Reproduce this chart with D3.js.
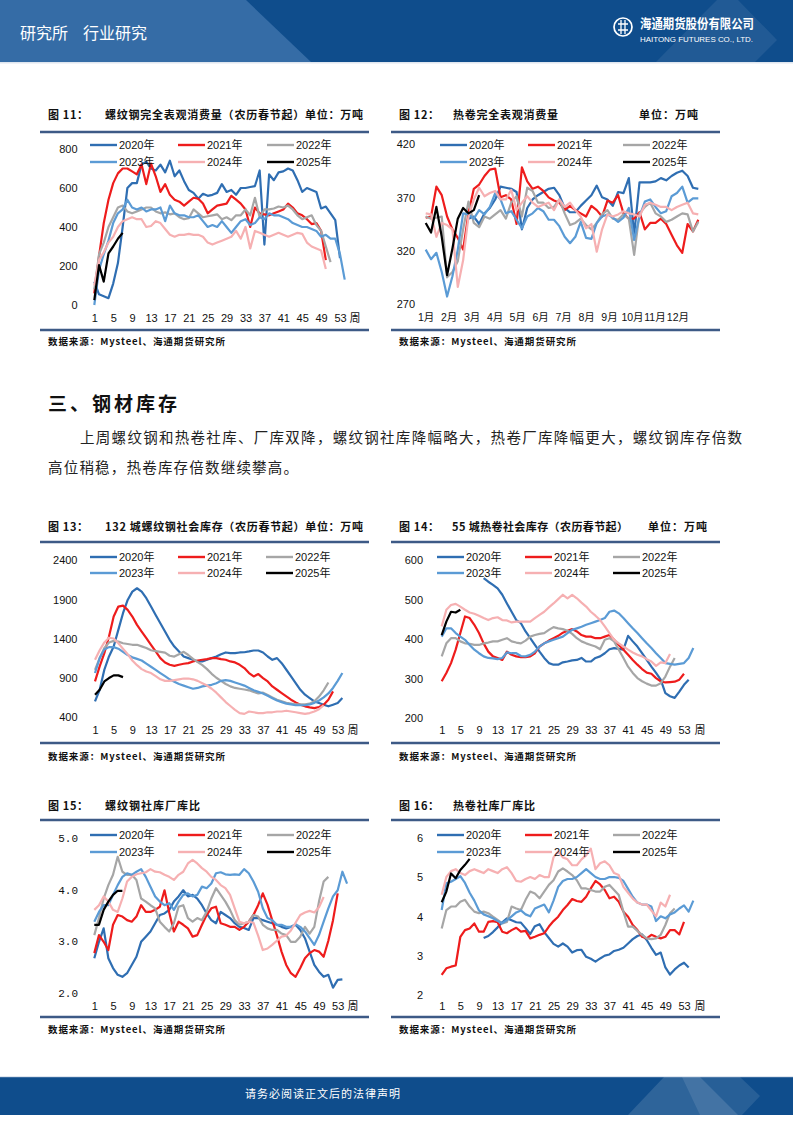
<!DOCTYPE html>
<html><head><meta charset="utf-8">
<script src="https://cdn.jsdelivr.net/npm/d3@7"></script>
<style>body{margin:0;background:#fff}svg{display:block}</style>
</head><body>
<svg id="page" width="793" height="1122"></svg>
<script>
// ---------- shared categories ----------
const yearNames = ["2020年","2021年","2022年","2023年","2024年","2025年"];
const yearColors = ["#2f6eb2","#ee1c1c","#a6a6a6","#5b9bd5","#f6b0b2","#000000"];
const weekTicks = [1,5,9,13,17,21,25,29,33,37,41,45,49,53];
const monthLabels = ["1月","2月","3月","4月","5月","6月","7月","8月","9月","10月","11月","12月"];
const monthTickIdx = [0,4.3,8.6,12.9,17.1,21.4,25.7,30,34.3,38.6,42.8,47.1];

// ---------- 图11 螺纹钢表观消费 (week 1..) ----------
const rbCons2020 = [120,55,45,35,110,215,400,600,625,625,720,735,700,690,720,680,740,660,690,635,590,575,545,570,560,565,575,620,580,590,565,600,600,605,610,690,310,670,640,680,685,700,690,640,580,600,590,580,495,505,470,435,240];
const rbCons2021 = [60,250,420,540,625,675,700,700,685,670,720,620,725,660,580,620,565,540,530,510,530,550,545,520,470,490,510,515,520,560,540,520,490,400,500,470,465,460,470,480,490,520,500,470,460,440,415,420,380,230];
const rbCons2022 = [80,260,320,400,450,500,510,480,470,480,490,500,500,480,470,475,465,470,450,440,445,490,470,450,455,460,465,440,450,435,460,460,490,460,550,450,490,490,495,505,500,510,490,460,440,450,460,410,380,300,220];
const rbCons2023 = [0,180,260,330,420,470,490,540,500,490,500,480,490,490,500,430,510,470,460,460,450,450,460,430,400,410,400,430,400,370,400,430,440,410,420,450,440,470,460,460,450,440,420,410,400,400,390,380,350,360,340,340,260,130];
const rbCons2024 = [100,230,270,320,350,400,430,440,450,440,440,400,405,430,420,390,360,350,360,360,365,360,360,350,320,310,320,330,340,350,380,340,400,290,380,370,360,350,360,370,360,350,360,370,365,320,300,290,280,185];
const rbCons2025 = [25,205,120,265,300,340,370];

// ---------- 图12 热卷表观消费 (week index 0..51) ----------
const hcCons2020 = [null,null,null,null,null,null,null,null,350,352,345,355,360,368,380,379,378,375,340,360,368,372,375,378,379,372,360,356,356,362,367,372,381,370,368,362,375,374,388,335,384,384,384,385,388,386,390,393,395,390,379,378];
const hcCons2021 = [351,352,380,372,352,340,332,321,355,378,382,390,396,397,370,372,368,345,398,385,378,380,376,370,367,365,358,362,358,355,352,362,358,352,367,365,372,355,350,350,356,340,346,346,350,345,335,325,318,345,338,349];
const hcCons2022 = [352,350,351,352,295,300,310,340,366,346,342,352,350,354,358,350,365,371,352,379,376,365,365,360,361,368,355,344,346,350,344,340,346,354,358,350,349,354,350,316,355,361,365,355,352,347,349,352,355,354,338,347];
const hcCons2023 = [321,312,318,300,277,296,321,355,354,350,358,354,361,374,368,355,357,349,341,352,355,360,357,349,349,343,333,327,333,347,332,331,346,352,354,351,347,351,360,330,352,366,368,361,355,357,371,374,380,365,369,369];
const hcCons2024 = [355,354,333,346,344,340,286,311,352,368,379,371,374,376,368,368,377,358,365,371,365,361,363,365,358,368,361,365,358,352,341,345,319,340,354,352,354,357,355,354,352,363,365,363,361,361,358,361,363,365,355,354];
const hcCons2025 = [346,337,361,333,297,322,350,360,355,358,372];

// ---------- 图13 螺纹钢社会库存 ----------
const rbInv2020 = [599,747,1002,1171,1298,1510,1722,1891,1997,2040,1997,1913,1807,1700,1595,1489,1383,1298,1235,1171,1150,1129,1108,1108,1129,1150,1171,1200,1222,1213,1213,1222,1225,1235,1247,1247,1222,1171,1129,1150,1086,1002,917,832,747,684,641,599,578,557,536,557,578,641];
const rbInv2021 = [853,1044,1213,1425,1680,1807,1819,1764,1680,1574,1489,1404,1319,1235,1150,1095,1065,1052,1065,1078,1086,1108,1120,1129,1137,1150,1150,1137,1129,1108,1095,1065,1023,959,917,947,896,853,790,747,705,663,620,586,557,536,523,514,527,557,620,726];
const rbInv2022 = [1000,1150,1280,1350,1370,1360,1340,1330,1320,1320,1300,1280,1250,1240,1230,1220,1180,1170,1200,1230,1190,1140,1100,1060,1010,950,900,860,820,790,770,760,750,740,720,700,710,680,650,620,600,580,570,560,560,560,570,600,660,740,840];
const rbInv2023 = [960,1150,1260,1290,1290,1270,1230,1190,1160,1140,1120,1080,1040,1000,960,920,880,850,820,800,780,760,770,790,800,810,830,860,870,860,840,820,800,770,740,720,700,670,640,610,590,570,560,550,550,550,560,580,610,650,700,770,860,960];
const rbInv2024 = [1129,1250,1350,1410,1400,1340,1270,1200,1120,1060,1010,980,960,920,880,860,860,870,880,890,890,880,860,830,800,760,710,650,590,540,490,450,440,470,460,450,450,460,460,470,470,480,470,460,450,440,450,470,500,550];
const rbInv2025 = [684,747,853,896,930,930,908];

// ---------- 图14 热卷社会库存 ----------
const hcInv2020 = [null,null,null,null,null,null,null,null,null,554,545,537,528,512,490,469,448,440,419,402,385,368,352,339,335,335,341,343,346,347,352,343,343,352,356,364,374,377,375,373,408,394,381,364,347,330,314,297,263,255,251,267,284,297];
const hcInv2021 = [293,314,339,373,415,457,453,436,415,389,368,356,352,347,368,360,356,354,354,356,364,381,389,396,402,408,416,421,425,419,410,406,406,402,402,406,410,398,385,373,360,347,335,324,315,312,301,293,290,291,292,297,312];
const hcInv2022 = [356,389,402,402,394,389,388,385,385,389,391,394,394,398,402,394,391,389,396,406,410,413,415,423,430,427,425,421,413,402,394,389,385,381,374,398,402,394,373,352,330,314,301,293,287,282,282,288,305,330,352];
const hcInv2023 = [406,427,427,415,406,398,385,373,364,356,352,351,349,352,366,364,364,357,356,360,368,381,389,394,398,402,406,415,423,427,431,436,440,444,448,453,469,472,465,453,440,427,415,402,389,377,364,352,339,337,335,337,339,352,377];
const hcInv2024 = [432,474,486,489,482,474,467,464,459,453,448,453,455,448,447,442,444,444,444,444,453,461,469,480,490,501,512,503,512,503,492,482,469,459,448,432,415,398,389,381,373,366,360,356,349,343,332,341,339,362];
const hcInv2025 = [410,444,469,467,474];

// ---------- 图15 螺纹钢社库厂库比 ----------
const rbRatio2020 = [2.66,2.98,3.24,2.66,2.47,2.34,2.30,2.37,2.53,2.69,2.98,3.08,3.18,3.34,3.50,3.53,3.60,3.76,3.86,3.98,3.86,3.89,3.82,3.69,3.53,3.40,3.34,3.56,3.50,3.44,3.34,3.27,3.25,3.21,3.44,3.44,3.40,3.37,3.34,3.31,3.27,3.24,3.27,3.31,3.21,3.05,2.79,2.53,2.40,2.30,2.34,2.09,2.24,2.25];
const rbRatio2021 = [2.76,3.11,2.98,2.82,3.31,3.50,3.47,3.40,3.37,3.47,3.69,3.56,3.56,3.60,3.66,3.98,3.55,3.18,3.37,3.31,3.24,3.08,3.11,3.31,3.50,3.63,3.66,3.34,3.31,3.27,3.27,3.21,3.27,3.37,3.50,3.69,3.92,3.70,3.40,3.11,2.79,2.53,2.37,2.30,2.47,2.66,2.76,2.82,2.79,2.69,3.00,3.40,3.92];
const rbRatio2022 = [3.11,3.44,3.82,4.08,4.28,4.63,4.34,4.28,4.28,4.18,3.82,3.76,3.69,3.63,3.37,3.27,3.18,3.34,3.66,3.69,3.44,3.37,3.44,3.40,3.56,3.82,4.02,3.89,3.76,3.60,3.40,3.31,3.34,3.37,3.50,3.47,3.31,3.24,3.21,3.21,3.14,3.11,2.98,2.98,3.08,3.27,3.14,3.27,3.76,4.15,4.24];
const rbRatio2023 = [3.37,3.56,3.69,3.69,3.89,4.08,4.24,4.31,4.28,4.34,4.39,4.24,4.05,3.86,3.76,3.69,3.73,3.60,3.76,3.89,3.92,3.86,3.89,4.05,4.02,4.11,4.31,4.33,4.29,4.28,4.29,4.28,4.39,4.31,4.15,3.95,3.63,3.44,3.40,3.31,3.31,3.27,3.27,3.32,3.27,3.18,3.05,2.92,3.11,3.37,3.63,3.86,3.98,4.34,4.11];
const rbRatio2024 = [3.60,3.69,3.86,3.76,3.60,3.56,3.82,4.15,4.24,4.29,4.31,4.33,4.39,4.34,4.33,4.28,4.24,4.18,4.28,4.34,4.50,4.57,4.50,4.41,4.34,4.24,4.18,4.08,4.02,3.89,3.63,3.37,3.34,3.37,3.35,3.10,2.82,2.85,2.92,3.00,3.08,3.10,3.20,3.35,3.50,3.55,3.58,3.55,3.65,3.85];
const rbRatio2025 = [3.31,3.31,3.60,3.76,3.89,3.97,3.97];

// ---------- 图16 热卷社库厂库比 ----------
const hcRatio2020 = [null,null,null,null,null,null,null,null,null,3.45,3.50,3.60,3.72,3.85,3.95,3.90,3.85,3.84,3.70,3.55,3.75,3.80,3.60,3.45,3.30,3.23,3.31,3.23,3.08,3.14,3.15,2.97,2.92,2.85,2.93,3.00,3.03,3.12,3.15,3.20,3.31,3.42,3.50,3.54,3.40,3.20,3.02,3.08,2.70,2.52,2.65,2.75,2.82,2.70];
const hcRatio2021 = [2.51,2.68,2.72,2.75,3.48,3.65,3.69,3.82,3.61,3.61,3.86,3.88,3.85,3.61,3.57,3.65,3.71,3.61,3.63,3.44,3.48,3.53,3.57,3.74,3.88,3.99,4.16,4.29,4.44,4.39,4.37,4.50,4.71,4.90,4.81,4.67,4.46,4.50,4.37,4.12,3.99,3.78,3.65,3.48,3.44,3.53,3.48,3.44,3.48,3.65,3.65,3.54,3.86];
const hcRatio2022 = [3.69,4.16,4.25,4.25,4.37,4.42,4.25,4.12,4.08,4.12,4.08,3.99,3.91,3.82,3.86,4.25,4.20,4.16,4.42,4.63,4.58,4.46,4.63,4.80,4.92,5.14,5.22,5.14,5.05,4.92,4.71,4.71,4.67,4.63,4.63,4.75,4.80,4.67,4.54,4.12,3.74,3.74,3.63,3.53,3.44,3.42,3.44,3.53,3.78,4.08,4.20];
const hcRatio2023 = [4.16,4.84,4.88,4.95,5.02,4.85,4.60,4.40,4.15,4.05,4.00,3.95,3.88,3.83,3.90,4.00,4.10,4.15,4.05,4.00,4.20,4.25,4.30,4.10,4.40,4.75,4.90,4.95,4.95,5.00,5.10,5.20,5.10,5.00,4.95,4.95,5.00,5.00,4.98,4.90,4.70,4.50,4.35,4.30,4.30,4.25,3.88,4.00,3.95,4.05,4.10,4.20,4.28,4.12,4.40];
const hcRatio2024 = [4.55,5.00,5.15,5.20,5.10,5.05,5.15,5.20,5.15,5.10,5.20,5.15,5.10,5.20,5.25,5.10,4.90,4.88,4.95,5.00,4.95,5.05,5.00,5.00,5.50,5.65,5.50,5.45,5.30,5.30,5.45,5.55,5.72,5.20,5.35,5.40,5.30,5.10,5.05,4.75,4.60,4.45,4.35,4.30,4.30,4.15,4.00,4.35,4.25,4.55];
const hcRatio2025 = [4.36,4.63,5.09,4.97,5.18,5.31,5.46];

// ---------- axis tick values ----------
const yTicks11 = [0,200,400,600,800];
const yTicks12 = [270,320,370,420];
const yTicks13 = [400,900,1400,1900,2400];
const yTicks14 = [200,300,400,500,600];
const yTicks15 = [2,3,4,5];
const yTicks16 = [2,3,4,5,6];

const svg = d3.select("#page");
const CJK = "'Noto Sans CJK SC','Noto Sans',sans-serif";
const NUM = "'Liberation Sans',Arial,'Noto Sans CJK SC',sans-serif";
const ruleColor = "#3d5a86";

// ---------- header ----------
svg.append("rect").attr("x",0).attr("y",0).attr("width",793).attr("height",62).attr("fill","#0f4d8c");
svg.append("polygon").attr("points","0,0 246,0 311,62 0,62").attr("fill","#356ca6");
svg.append("polygon").attr("points","656,62 705,12 717,0 738,0 777,40 755,62").attr("fill","#ffffff").attr("opacity",0.08);
svg.append("rect").attr("x",0).attr("y",62).attr("width",793).attr("height",1.5).attr("fill","#dfe6ef");
svg.append("text").attr("x",20).attr("y",39).attr("fill","#fff").attr("font-family",CJK).attr("font-size",16).text("研究所");
svg.append("text").attr("x",83).attr("y",39).attr("fill","#fff").attr("font-family",CJK).attr("font-size",16).text("行业研究");
const logo = svg.append("g").attr("transform","translate(623,27)");
logo.append("circle").attr("r",9).attr("fill","none").attr("stroke","#fff").attr("stroke-width",1.7);
logo.append("path").attr("d","M-5,-3 H5 M-5,3 H5 M-2,-7 V7 M2,-7 V7").attr("stroke","#fff").attr("stroke-width",1.3).attr("fill","none");
svg.append("text").attr("x",640).attr("y",28).attr("fill","#fff").attr("font-family",CJK).attr("font-weight",700)
  .attr("font-size",13).attr("textLength",114).attr("lengthAdjust","spacingAndGlyphs").text("海通期货股份有限公司");
svg.append("text").attr("x",640).attr("y",42).attr("fill","#fff").attr("font-family",NUM)
  .attr("font-size",8).attr("textLength",113).attr("lengthAdjust","spacingAndGlyphs").text("HAITONG FUTURES CO., LTD.");

// ---------- section text ----------
svg.append("text").attr("x",48).attr("y",411).attr("font-family",CJK).attr("font-weight",700).attr("font-size",19)
  .attr("fill","#111").attr("textLength",129).attr("lengthAdjust","spacing").text("三、钢材库存");
svg.append("text").attr("x",80).attr("y",443).attr("font-family",CJK).attr("font-size",14.5).attr("fill","#222")
  .attr("textLength",662).attr("lengthAdjust","spacing")
  .text("上周螺纹钢和热卷社库、厂库双降，螺纹钢社库降幅略大，热卷厂库降幅更大，螺纹钢库存倍数");
svg.append("text").attr("x",48).attr("y",473).attr("font-family",CJK).attr("font-size",14.5).attr("fill","#222")
  .attr("textLength",250).attr("lengthAdjust","spacing").text("高位稍稳，热卷库存倍数继续攀高。");

// ---------- footer ----------
svg.append("rect").attr("x",0).attr("y",1077).attr("width",793).attr("height",38).attr("fill","#0f4d8c");
svg.append("rect").attr("x",0).attr("y",1076).attr("width",793).attr("height",1.2).attr("fill","#dfe6ef");
svg.append("polygon").attr("points","628,1115 664,1077 700,1077 738,1115").attr("fill","#ffffff").attr("opacity",0.13);
svg.append("polygon").attr("points","682,1077 740,1077 760,1096 742,1115 700,1115").attr("fill","#ffffff").attr("opacity",0.1);
svg.append("text").attr("x",245).attr("y",1098).attr("fill","#fff").attr("font-family",CJK).attr("font-size",11)
  .attr("textLength",155).attr("lengthAdjust","spacing").text("请务必阅读正文后的法律声明");

// ---------- chart panel ----------
function panel(p) {
  const g = svg.append("g");
  g.append("text").attr("x",p.ruleX0+8).attr("y",p.titleY).attr("font-family",CJK).attr("font-weight",700)
    .attr("font-size",11).attr("fill","#111").attr("textLength",40).attr("lengthAdjust","spacing").text(p.figNo);
  p.titles.forEach(t => g.append("text").attr("x",t[1]).attr("y",p.titleY).attr("font-family",CJK).attr("font-weight",700)
    .attr("font-size",11).attr("fill","#111").attr("textLength",t[2]-t[1]).attr("lengthAdjust","spacing").text(t[0]));
  g.append("line").attr("x1",p.ruleX0).attr("x2",p.ruleX1).attr("y1",p.ruleTop).attr("y2",p.ruleTop)
    .attr("stroke",ruleColor).attr("stroke-width",2.5);
  g.append("line").attr("x1",p.ruleX0).attr("x2",p.ruleX1).attr("y1",p.ruleBottom).attr("y2",p.ruleBottom)
    .attr("stroke",ruleColor).attr("stroke-width",2.5);
  g.append("text").attr("x",p.ruleX0+8).attr("y",p.sourceY).attr("font-family",CJK).attr("font-weight",700)
    .attr("font-size",9.5).attr("fill","#111").attr("textLength",177).attr("lengthAdjust","spacing")
    .text("数据来源：Mysteel、海通期货研究所");

  const x = d3.scaleLinear().domain(p.xDomain).range(p.xRange);
  const y = d3.scaleLinear().domain(p.yDomain).range(p.yRange);

  const ya = g.append("g").attr("transform",`translate(${p.yLabelX},0)`)
    .call(d3.axisLeft(y).tickValues(p.yTicks).tickSize(0).tickPadding(0).tickFormat(p.yFormat));
  ya.select(".domain").remove();
  ya.selectAll("text").attr("font-family",p.yFont||NUM).attr("font-size",11).attr("fill","#111").attr("dy","0.36em");

  const xa = g.append("g").attr("transform",`translate(0,${p.xLabelY-4})`)
    .call(d3.axisBottom(x).tickValues(p.xTicks).tickSize(0).tickPadding(0).tickFormat(p.xFormat));
  xa.select(".domain").remove();
  xa.selectAll("text").attr("font-family",NUM).attr("font-size",p.xFontSize||11).attr("fill","#111");
  if (p.weekLabelX) g.append("text").attr("x",p.weekLabelX).attr("y",p.xLabelY+4).attr("text-anchor","middle")
    .attr("font-family",CJK).attr("font-size",11).attr("fill","#111").text("周");

  const line = d3.line().defined(d => d != null).x((d,i) => x(i + p.xStart)).y(d => y(d));
  p.series.forEach((s,k) => {
    g.append("path").datum(s).attr("d",line).attr("fill","none").attr("stroke",yearColors[k])
      .attr("stroke-width",2.2).attr("stroke-linejoin","round");
  });
  yearNames.forEach((nm,k) => {
    const cx = p.legendCols[k%3], cy = p.legendRows[Math.floor(k/3)];
    g.append("line").attr("x1",cx).attr("x2",cx+27).attr("y1",cy).attr("y2",cy)
      .attr("stroke",yearColors[k]).attr("stroke-width",2.4);
    g.append("text").attr("x",cx+29).attr("y",cy+4).attr("font-family",NUM).attr("font-size",11)
      .attr("fill","#111").text(nm);
  });
}

const L = {ruleX0:40, ruleX1:369}, R = {ruleX0:391, ruleX1:720};
const fmtInt = d3.format("d");

panel({...L, figNo:"图 11：", titles:[["螺纹钢完全表观消费量（农历春节起）单位：万吨",105,363]], titleY:119,
  ruleTop:132, ruleBottom:330, sourceY:345,
  xDomain:[1,53], xRange:[94.3,340], xStart:1, xTicks:weekTicks, xFormat:fmtInt, xLabelY:318, weekLabelX:355,
  yDomain:[0,800], yRange:[305,149], yTicks:yTicks11, yFormat:fmtInt, yLabelX:77.5,
  series:[rbCons2020,rbCons2021,rbCons2022,rbCons2023,rbCons2024,rbCons2025],
  legendCols:[90,178,267], legendRows:[145,162]});

panel({...R, figNo:"图 12：", titles:[["热卷完全表观消费量",453,558],["单位：万吨",639,698]], titleY:119,
  ruleTop:132, ruleBottom:330, sourceY:345,
  xDomain:[0,51], xRange:[425.7,698.3], xStart:0, xTicks:monthTickIdx, xFormat:(d,i)=>monthLabels[i], xLabelY:318, xFontSize:10.5,
  yDomain:[270,420], yRange:[304,144], yTicks:yTicks12, yFormat:fmtInt, yLabelX:415,
  series:[hcCons2020,hcCons2021,hcCons2022,hcCons2023,hcCons2024,hcCons2025],
  legendCols:[440,528,623], legendRows:[145,162]});

panel({...L, figNo:"图 13：", titles:[["132 城螺纹钢社会库存（农历春节起）单位：万吨",105,363]], titleY:531,
  ruleTop:542, ruleBottom:743, sourceY:760,
  xDomain:[1,53], xRange:[95,337.7], xStart:1, xTicks:weekTicks, xFormat:fmtInt, xLabelY:730, weekLabelX:353,
  yDomain:[400,2400], yRange:[717,560], yTicks:yTicks13, yFormat:fmtInt, yLabelX:77.5,
  series:[rbInv2020,rbInv2021,rbInv2022,rbInv2023,rbInv2024,rbInv2025],
  legendCols:[90,178,266], legendRows:[557,573]});

panel({...R, figNo:"图 14：", titles:[["55 城热卷社会库存（农历春节起）",452,628],["单位：万吨",648,707]], titleY:531,
  ruleTop:542, ruleBottom:743, sourceY:760,
  xDomain:[1,53], xRange:[441.7,684], xStart:1, xTicks:weekTicks, xFormat:fmtInt, xLabelY:730, weekLabelX:700,
  yDomain:[200,600], yRange:[718,560], yTicks:yTicks14, yFormat:fmtInt, yLabelX:423,
  series:[hcInv2020,hcInv2021,hcInv2022,hcInv2023,hcInv2024,hcInv2025],
  legendCols:[437,525,613], legendRows:[557,573]});

panel({...L, figNo:"图 15：", titles:[["螺纹钢社库厂库比",105,200]], titleY:810,
  ruleTop:820, ruleBottom:1017, sourceY:1033,
  xDomain:[1,53], xRange:[94.3,337.7], xStart:1, xTicks:weekTicks, xFormat:fmtInt, xLabelY:1006, weekLabelX:353,
  yDomain:[2,5], yRange:[992.3,837.7], yTicks:yTicks15, yFormat:d3.format(".1f"), yLabelX:78, yFont:"'Liberation Mono','DejaVu Sans Mono',monospace",
  series:[rbRatio2020,rbRatio2021,rbRatio2022,rbRatio2023,rbRatio2024,rbRatio2025],
  legendCols:[90,178,267], legendRows:[835,852]});

panel({...R, figNo:"图 16：", titles:[["热卷社库厂库比",453,535]], titleY:810,
  ruleTop:820, ruleBottom:1017, sourceY:1033,
  xDomain:[1,53], xRange:[441.7,684], xStart:1, xTicks:weekTicks, xFormat:fmtInt, xLabelY:1006, weekLabelX:700,
  yDomain:[2,6], yRange:[995,837.7], yTicks:yTicks16, yFormat:fmtInt, yLabelX:423,
  series:[hcRatio2020,hcRatio2021,hcRatio2022,hcRatio2023,hcRatio2024,hcRatio2025],
  legendCols:[437,525,613], legendRows:[835,852]});
</script>
</body></html>
